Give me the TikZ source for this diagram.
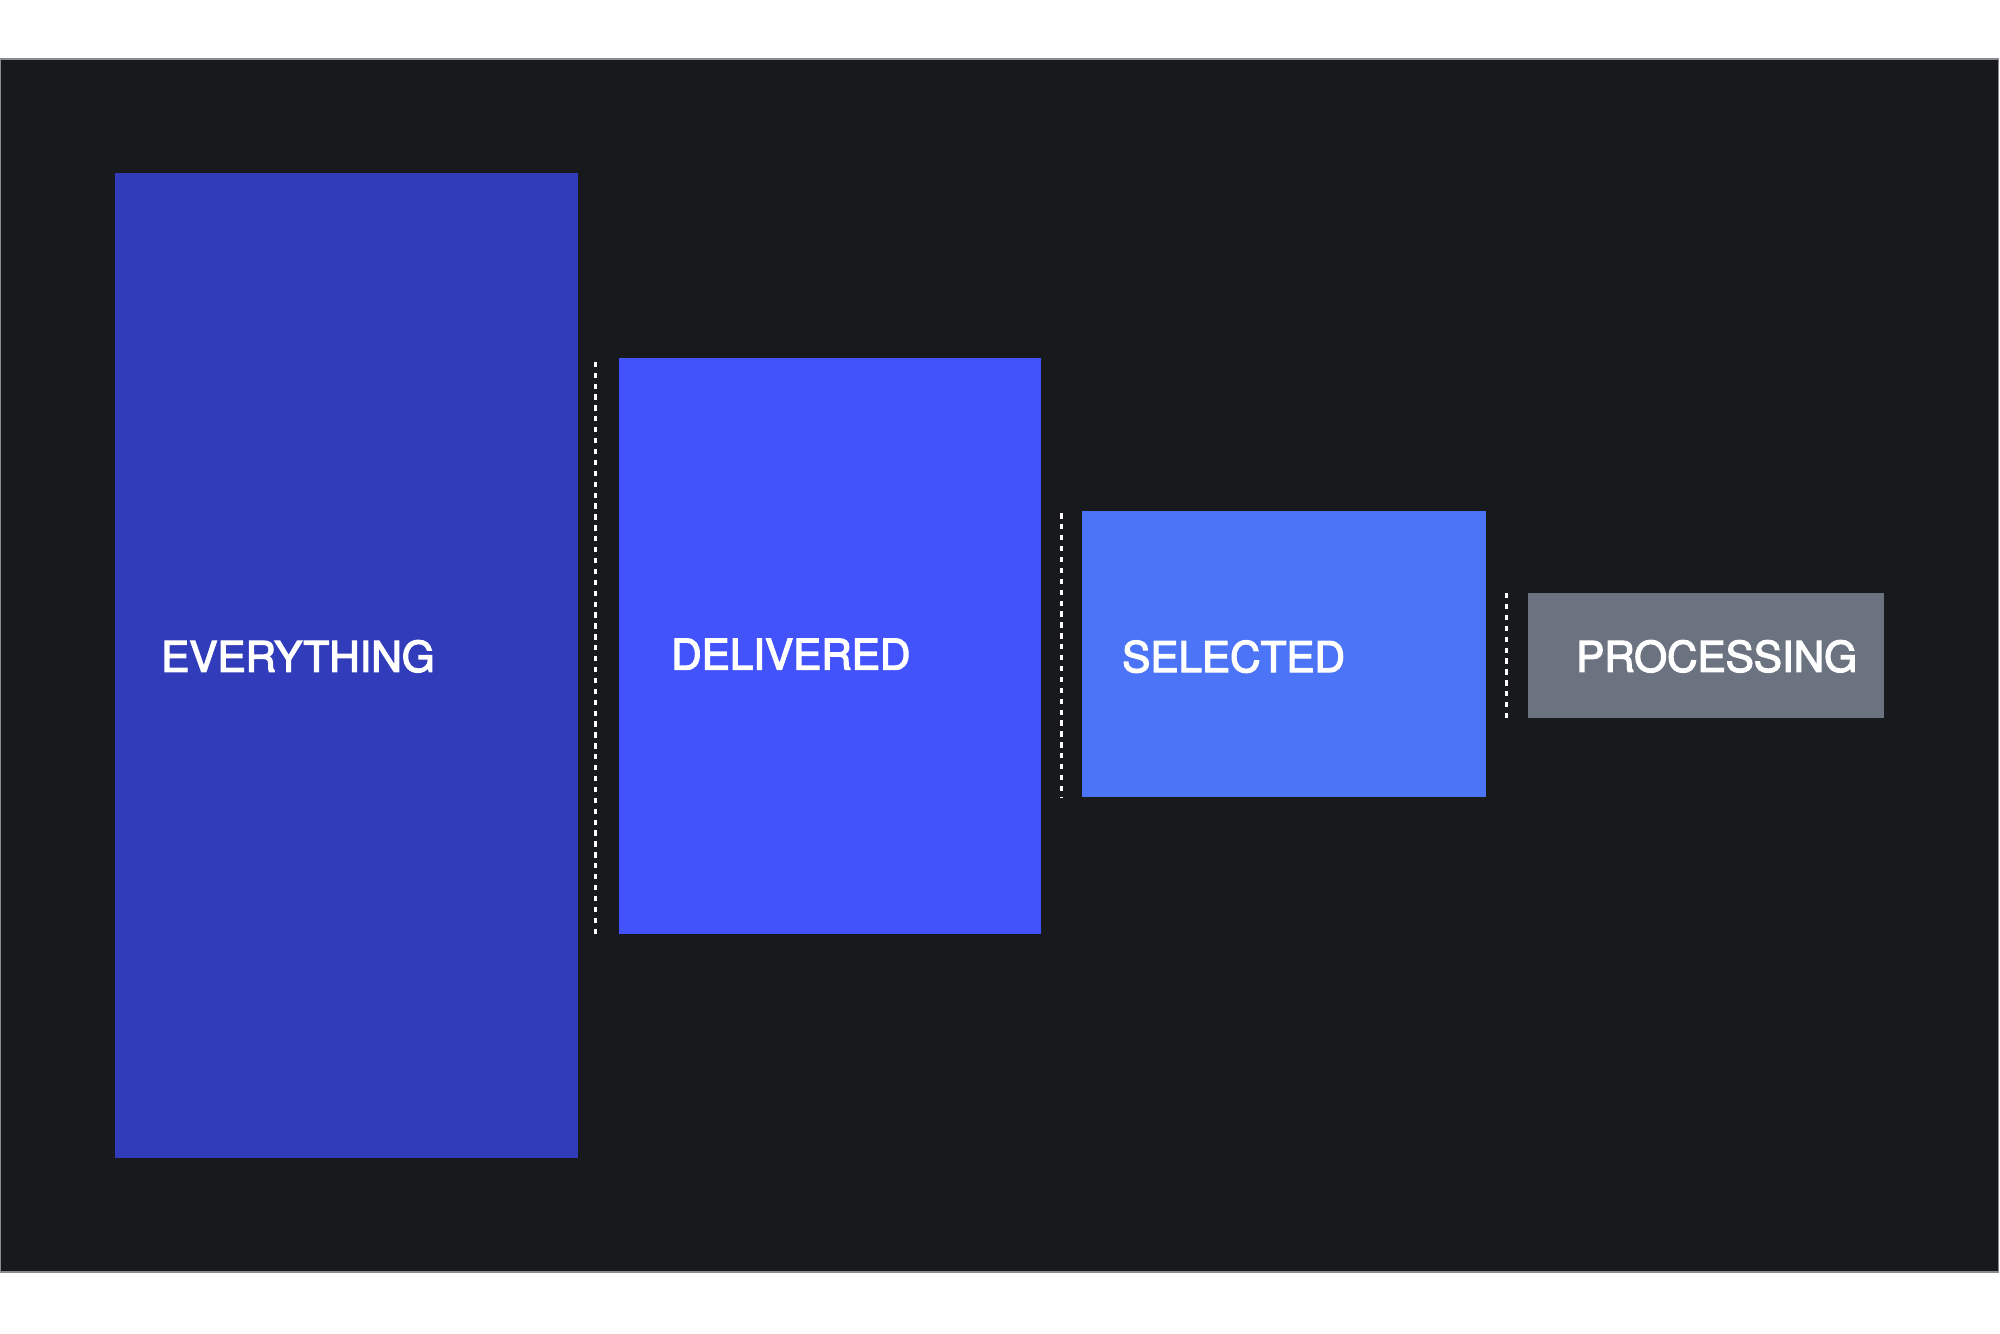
\documentclass[tikz,border=0pt]{standalone}
\usepackage{fontspec}
\setmainfont{TeX Gyre Heros}
\newfontfamily\lblfont[FakeBold=3]{TeX Gyre Heros}
\definecolor{bgdark}{HTML}{18191D}
\definecolor{bgedge}{HTML}{8A8B8F}
\definecolor{cEverything}{HTML}{303CBA}
\definecolor{cDelivered}{HTML}{4353FB}
\definecolor{cSelected}{HTML}{4C74F7}
\definecolor{cProcessing}{HTML}{6B7280}
\tikzset{
  panel/.style={rectangle, draw=none, inner sep=0pt, outer sep=0pt},
  lbl/.style={text=white, font=\lblfont\fontsize{12}{14}\selectfont, inner sep=0pt, anchor=base west},
  divider/.style={draw=white, line width=0.85pt, dash pattern=on 1.5pt off 1.6pt}
}
\begin{document}
\begin{tikzpicture}[x=0.01cm,y=-0.01cm]
\useasboundingbox[fill=white] (0,0) rectangle (2000,1333);
\fill[bgdark, draw=bgedge, line width=0.3pt] (0,59) rectangle (1998,1272);
% panels
\node[panel, fill=cEverything, minimum width=4.629cm, minimum height=9.845cm] (everything) at (346.3,665.8) {};
\node[panel, fill=cDelivered, minimum width=4.215cm, minimum height=5.76cm] (delivered) at (830.3,646) {};
\node[panel, fill=cSelected, minimum width=4.035cm, minimum height=2.858cm] (selected) at (1284.3,654.4) {};
\node[panel, fill=cProcessing, minimum width=3.56cm, minimum height=1.25cm] (processing) at (1706,655.5) {};
% labels
\node[lbl] (tEverything) at (160.5,671.7) {EVERYTHING};
\node[lbl] (tDelivered) at (670.5,669.5) {DELIVERED};
\node[lbl] (tSelected) at (1121.5,672) {SELECTED};
\node[lbl] (tProcessing) at (1575.5,671.7) {PROCESSING};
% dividers
\coordinate (d1a) at (595.7,361.7);
\coordinate (d1b) at (595.7,934);
\coordinate (d2a) at (1061.3,513.3);
\coordinate (d2b) at (1061.3,797);
\coordinate (d3a) at (1506,593);
\coordinate (d3b) at (1506,718);
\draw[divider] (d1a) -- (d1b);
\draw[divider] (d2a) -- (d2b);
\draw[divider] (d3a) -- (d3b);
\end{tikzpicture}
\end{document}
